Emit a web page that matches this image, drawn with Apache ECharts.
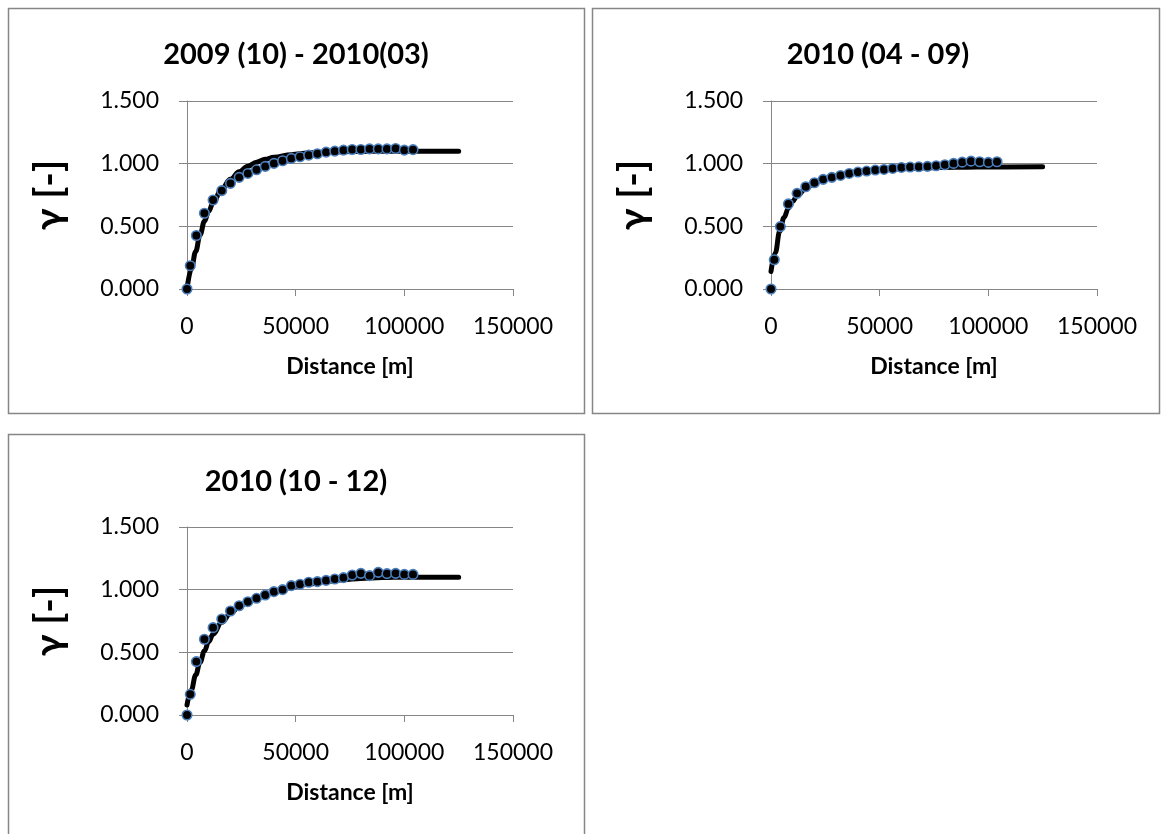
<!DOCTYPE html>
<html>
<head>
<meta charset="utf-8">
<script src="https://cdn.jsdelivr.net/npm/echarts@6/dist/echarts.min.js"></script>
<style>
html,body{margin:0;padding:0;background:#fff;}
#chart{width:1162px;height:834px;}
</style>
</head>
<body>
<div id="chart"></div>
<script>
// ---- data ----
const panelTitles = ['2009 (10) - 2010(03)', '2010 (04 - 09)', '2010 (10 - 12)'];
const xAxisTicks = [0, 50000, 100000, 150000];
const yAxisTicks = [0, 0.5, 1.0, 1.5];
const xAxisTitle = 'Distance [m]';
const yAxisTitle = 'γ [-]';

// experimental semivariogram: lag distances [m]
const lagDistance = [0, 1500, 4300, 8000, 12000, 16000, 20000, 24000, 28000, 32000, 36000, 40000, 44000, 48000,
  52000, 56000, 60000, 64000, 68000, 72000, 76000, 80000, 84000, 88000, 92000, 96000, 100000, 104000];
const gammaObs1 = [0, 0.186, 0.427, 0.604, 0.710, 0.785, 0.843, 0.891, 0.922, 0.951, 0.978, 1.002, 1.023, 1.042,
  1.055, 1.068, 1.079, 1.092, 1.100, 1.108, 1.113, 1.113, 1.118, 1.118, 1.118, 1.121, 1.108, 1.112];
const gammaObs2 = [0, 0.233, 0.498, 0.679, 0.763, 0.816, 0.848, 0.875, 0.891, 0.906, 0.922, 0.933, 0.941, 0.949,
  0.954, 0.962, 0.970, 0.973, 0.975, 0.978, 0.983, 0.991, 1.002, 1.012, 1.020, 1.015, 1.010, 1.015];
const gammaObs3 = [0, 0.165, 0.426, 0.604, 0.697, 0.766, 0.830, 0.872, 0.904, 0.931, 0.957, 0.984, 1.000, 1.032,
  1.043, 1.059, 1.064, 1.074, 1.085, 1.096, 1.117, 1.130, 1.112, 1.138, 1.128, 1.130, 1.122, 1.122];

// fitted model curve
const modelDistance = [0, 2000, 4000, 6000, 8000, 10000, 12000, 16000, 20000, 24000, 28000, 32000, 36000, 40000,
  48000, 56000, 64000, 72000, 80000, 90000, 100000, 125000];
const gammaModel1 = [0, 0.16, 0.30, 0.43, 0.54, 0.62, 0.69, 0.80, 0.875, 0.935, 0.98, 1.012, 1.035, 1.052,
  1.072, 1.085, 1.092, 1.096, 1.098, 1.10, 1.10, 1.10];
const gammaModel2 = [0.14, 0.29, 0.46, 0.57, 0.645, 0.70, 0.745, 0.80, 0.845, 0.875, 0.895, 0.91, 0.922, 0.93,
  0.945, 0.955, 0.962, 0.967, 0.97, 0.972, 0.974, 0.975];
const gammaModel3 = [0.08, 0.20, 0.32, 0.42, 0.51, 0.585, 0.645, 0.74, 0.81, 0.865, 0.905, 0.935, 0.96, 0.98,
  1.018, 1.045, 1.066, 1.08, 1.09, 1.097, 1.10, 1.10];

const observed = [gammaObs1, gammaObs2, gammaObs3];
const models = [gammaModel1, gammaModel2, gammaModel3];

// ---- layout / style ----
const FONT = 'Lato, "Open Sans", "DejaVu Sans", sans-serif';
const GRAY = '#868686';
const layout = [
  { left: 187, top: 101, box: [8, 8, 576, 405], titleX: 296, titleY: 57 },
  { left: 771, top: 101, box: [592, 8, 567, 405], titleX: 878, titleY: 57 },
  { left: 187, top: 527, box: [8, 434, 576, 420], titleX: 296, titleY: 484 }
];
const PLOT_W = 326, PLOT_H = 188;

const zip = (xs, ys) => xs.map((x, i) => [x, ys[i]]);

const grids = [], xAxes = [], yAxes = [], series = [], titles = [], graphics = [];
layout.forEach((p, i) => {
  graphics.push({
    type: 'rect', silent: true, z: -10,
    shape: { x: p.box[0] + 0.5, y: p.box[1] + 0.5, width: p.box[2], height: p.box[3] },
    style: { fill: '#fff', stroke: GRAY, lineWidth: 1.5 }
  });
  titles.push({
    text: panelTitles[i], left: p.titleX, top: p.titleY - 17, textAlign: 'center', padding: 0,
    textStyle: { fontSize: 29, fontWeight: 'bold', color: '#000', fontFamily: FONT }
  });
  grids.push({ left: p.left, top: p.top, width: PLOT_W, height: PLOT_H, containLabel: false, outerBoundsMode: 'none' });
  xAxes.push({
    gridIndex: i, type: 'value',
    min: xAxisTicks[0], max: xAxisTicks[xAxisTicks.length - 1], interval: xAxisTicks[1] - xAxisTicks[0],
    axisLine: { show: true, onZero: false, lineStyle: { color: GRAY, width: 1 } },
    axisTick: { show: true, length: 7, lineStyle: { color: GRAY, width: 1 } },
    splitLine: { show: false },
    axisLabel: { fontSize: 23, color: '#000', margin: 26, fontFamily: FONT, showMinLabel: true, showMaxLabel: true,
      formatter: v => String(v) },
    name: xAxisTitle, nameLocation: 'middle', nameGap: 66,
    nameTextStyle: { fontSize: 23, fontWeight: 'bold', color: '#000', fontFamily: FONT }
  });
  yAxes.push({
    gridIndex: i, type: 'value',
    min: yAxisTicks[0], max: yAxisTicks[yAxisTicks.length - 1], interval: yAxisTicks[1] - yAxisTicks[0],
    axisLine: { show: true, onZero: false, lineStyle: { color: GRAY, width: 1 } },
    axisTick: { show: true, length: 8, lineStyle: { color: GRAY, width: 1 } },
    splitLine: { show: true, lineStyle: { color: GRAY, width: 1 } },
    axisLabel: { fontSize: 23, color: '#000', margin: 28, fontFamily: FONT, formatter: v => v.toFixed(3) },
    name: yAxisTitle, nameLocation: 'middle', nameGap: 118, nameRotate: 90,
    nameTextStyle: { fontSize: 39, fontWeight: 'bold', color: '#000', fontFamily: FONT }
  });
  series.push({
    type: 'line', xAxisIndex: i, yAxisIndex: i, data: zip(modelDistance, models[i]),
    showSymbol: false, smooth: 0.4, smoothMonotone: 'x', clip: false, z: 2,
    lineStyle: { color: '#000', width: 5, cap: 'round', join: 'round' }
  });
  series.push({
    type: 'scatter', xAxisIndex: i, yAxisIndex: i, data: zip(lagDistance, observed[i]),
    symbol: 'circle', symbolSize: 9.5, clip: false, z: 3,
    itemStyle: { color: '#000', borderColor: '#4a7ebb', borderWidth: 1.6, opacity: 1 }
  });
});

const chart = echarts.init(document.getElementById('chart'), null, { renderer: 'canvas' });
chart.setOption({
  animation: false,
  backgroundColor: '#fff',
  title: titles,
  grid: grids,
  xAxis: xAxes,
  yAxis: yAxes,
  series: series,
  graphic: graphics
});
</script>
</body>
</html>
